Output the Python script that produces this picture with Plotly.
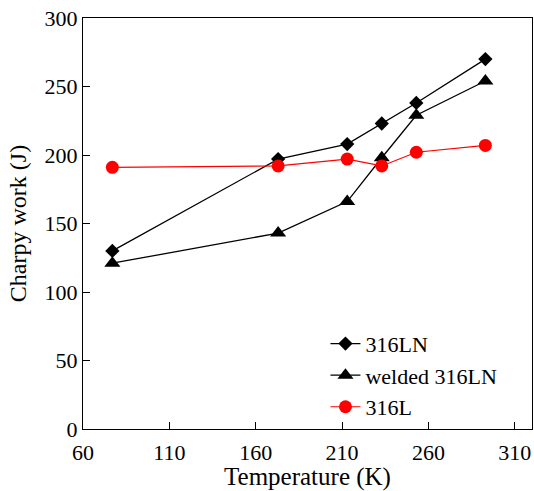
import plotly.graph_objects as go

temperature = [77, 173, 213, 233, 253, 293]
work_316LN = [130, 197, 208, 223, 238, 270]
work_welded_316LN = [121, 143, 166, 198, 229, 254]
work_316L = [191, 192, 197, 192, 202, 207]

series_names = ["316LN", "welded 316LN", "316L"]
x_ticks = [60, 110, 160, 210, 260, 310]
y_ticks = [0, 50, 100, 150, 200, 250, 300]

FONT = "Liberation Serif"

fig = go.Figure()
fig.add_trace(go.Scatter(
    x=temperature, y=work_316LN, name=series_names[0], mode="lines+markers",
    line=dict(color="black", width=1.3),
    marker=dict(symbol="diamond", size=11, color="black"),
    legendgroup="a"))
fig.add_trace(go.Scatter(
    x=temperature, y=work_welded_316LN, name=series_names[1], mode="lines+markers",
    line=dict(color="black", width=1.3),
    marker=dict(symbol="triangle-up", size=14, color="black"),
    legendgroup="b"))
fig.add_trace(go.Scatter(
    x=temperature, y=work_316L, name=series_names[2], mode="lines+markers",
    line=dict(color="#ff0000", width=1.2),
    marker=dict(symbol="circle", size=13, color="#ff0000"),
    legendgroup="c"))

axis_common = dict(
    showgrid=False, zeroline=False, showline=True, linecolor="black", linewidth=1.3,
    mirror=True, ticks="inside", ticklen=7, tickwidth=1.2, tickcolor="black",
    tickfont=dict(family=FONT, size=22, color="black"), automargin=False,
)

fig.update_layout(
    width=534, height=491,
    margin=dict(l=83, r=2, t=18, b=62),
    paper_bgcolor="white", plot_bgcolor="white",
    font=dict(family=FONT, color="black"),
    showlegend=True,
    legend=dict(
        x=0.54, y=0.003, xanchor="left", yanchor="bottom",
        bgcolor="rgba(0,0,0,0)", font=dict(family=FONT, size=22, color="black"),
        tracegroupgap=5, traceorder="normal",
    ),
    xaxis=dict(range=[60, 320], tickvals=x_ticks, ticklabelstandoff=3,
               title=dict(text="Temperature (K)", font=dict(family=FONT, size=25), standoff=8),
               **axis_common),
    yaxis=dict(range=[0, 300], tickvals=y_ticks,
               title=dict(text="Charpy work (J)", font=dict(family=FONT, size=24), standoff=11),
               **axis_common),
)

post = (
    "document.body.style.margin='0';"
    "document.body.style.padding='0';"
    "document.body.style.overflow='hidden';"
    "var gd=document.getElementById('{plot_id}');"
    "Plotly.relayout(gd,{width:534,height:491});"
)

fig.write_html("out.html", post_script=post,
               config={"responsive": False, "displayModeBar": False})
